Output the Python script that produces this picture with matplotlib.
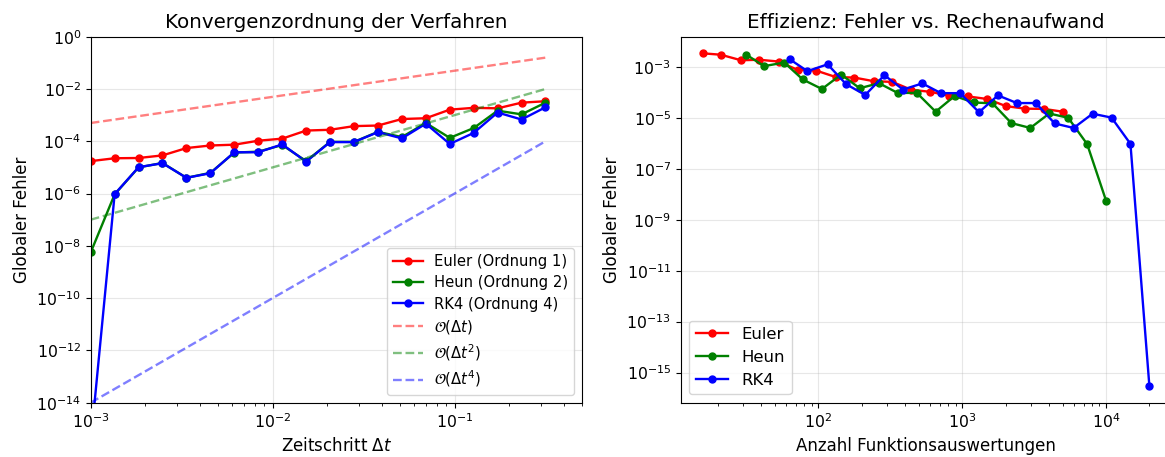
import numpy as np
import matplotlib
matplotlib.use("Agg")
import matplotlib.pyplot as plt

# time steps (log-spaced)
dt = [0.001, 0.001354, 0.001833, 0.002481, 0.003360, 0.004549, 0.006158,
      0.008338, 0.01129, 0.01528, 0.02069, 0.02801, 0.03793, 0.05135,
      0.06952, 0.09412, 0.1274, 0.1725, 0.2336, 0.3162]

# function evaluations per method
evals_euler = [5000, 3693, 2728, 2015, 1488, 1099, 812, 600, 443, 327,
               242, 178, 132, 97, 72, 53, 39, 29, 21, 15.8]
evals_heun = [10000, 7386, 5456, 4030, 2976, 2198, 1624, 1200, 886, 654,
              484, 356, 264, 194, 144, 106, 78, 58, 42, 31.6]
evals_rk4 = [20000, 14772, 10912, 8060, 5952, 4396, 3248, 2400, 1772, 1308,
             968, 712, 528, 388, 288, 212, 156, 116, 84, 63.2]

# global errors
err_euler = [1.74e-5, 2.24e-5, 2.29e-5, 2.88e-5, 5.5e-5, 6.9e-5, 7.4e-5,
             1.05e-4, 1.26e-4, 2.57e-4, 2.75e-4, 3.8e-4, 4.0e-4, 7.1e-4,
             7.6e-4, 1.62e-3, 1.9e-3, 1.82e-3, 3.0e-3, 3.4e-3]
err_heun = [5.6e-9, 9.3e-7, 1.0e-5, 1.48e-5, 4.0e-6, 6.2e-6, 3.7e-5,
            4.0e-5, 7.2e-5, 1.74e-5, 9.5e-5, 9.5e-5, 2.29e-4, 1.45e-4,
            5.0e-4, 1.35e-4, 3.2e-4, 1.48e-3, 1.07e-3, 3.0e-3]
err_rk4 = [2.95e-16, 9.5e-7, 1.02e-5, 1.45e-5, 4.0e-6, 6.0e-6, 3.8e-5,
           3.8e-5, 7.6e-5, 1.66e-5, 9.3e-5, 9.3e-5, 2.24e-4, 1.29e-4,
           4.7e-4, 7.9e-5, 2.09e-4, 1.26e-3, 6.8e-4, 2.0e-3]

# reference slopes: constant and order
ref_const = [0.5, 0.1, 0.01]
ref_order = [1, 2, 4]

W, H = 1165, 457
fig = plt.figure(figsize=(W / 100, H / 100), dpi=100)

def frac(x0, y0, x1, y1):
    return [x0 / W, 1 - y1 / H, (x1 - x0) / W, (y1 - y0) / H]

ax1 = fig.add_axes(frac(90.7, 36.7, 581.7, 402.7))
ax2 = fig.add_axes(frac(680.7, 36.7, 1171.7, 402.7))

mk = dict(marker='o', markersize=5, linewidth=1.7)
ax1.loglog(dt, err_euler, color='red', label='Euler (Ordnung 1)', **mk)
ax1.loglog(dt, err_heun, color='green', label='Heun (Ordnung 2)', **mk)
ax1.loglog(dt, err_rk4, color='blue', label='RK4 (Ordnung 4)', **mk)
dta = np.array(dt)
ref_colors = ['red', 'green', 'blue']
ref_labels = [r'$\mathcal{O}(\Delta t)$', r'$\mathcal{O}(\Delta t^2)$',
              r'$\mathcal{O}(\Delta t^4)$']
for c, p, col, lab in zip(ref_const, ref_order, ref_colors, ref_labels):
    ax1.loglog(dta, c * dta ** p, '--', color=col, alpha=0.5,
               linewidth=1.7, label=lab)
ax1.set_xlim(1e-3, 0.5)
ax1.set_ylim(1e-14, 1e0)
ax1.set_xlabel(r'Zeitschritt $\Delta t$', fontsize=12)
ax1.set_ylabel('Globaler Fehler', fontsize=12)
ax1.set_title('Konvergenzordnung der Verfahren', fontsize=14.3)
ax1.grid(True, alpha=0.3)
ax1.legend(loc='lower right', fontsize=10.6, labelspacing=0.42)

ax2.loglog(evals_euler, err_euler, color='red', label='Euler', **mk)
ax2.loglog(evals_heun, err_heun, color='green', label='Heun', **mk)
ax2.loglog(evals_rk4, err_rk4, color='blue', label='RK4', **mk)
ax2.set_xlabel('Anzahl Funktionsauswertungen', fontsize=12)
ax2.set_ylabel('Globaler Fehler', fontsize=12)
ax2.set_title('Effizienz: Fehler vs. Rechenaufwand', fontsize=14.3)
ax2.grid(True, alpha=0.3)
ax2.legend(loc='lower left', fontsize=11.85, labelspacing=0.48)

for ax in (ax1, ax2):
    ax.tick_params(axis='both', which='major', labelsize=11.3)

fig.savefig('out.png', dpi=100)
